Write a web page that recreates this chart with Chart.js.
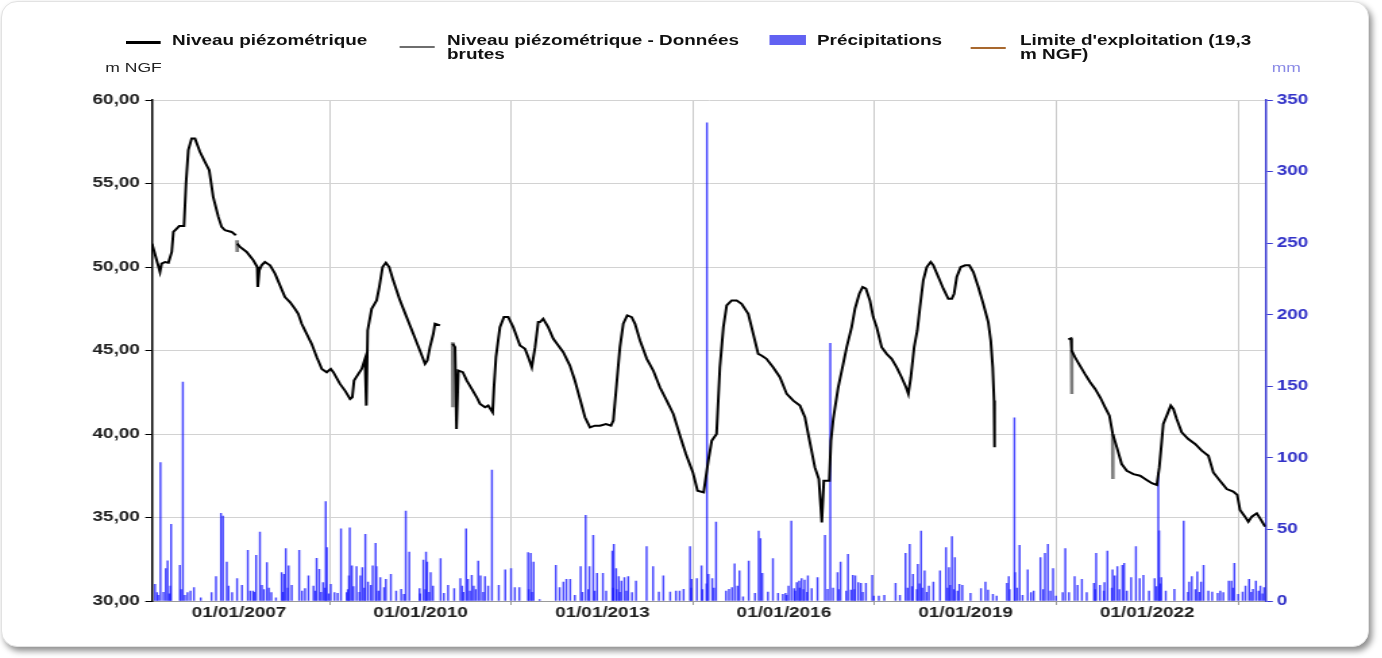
<!DOCTYPE html>
<html lang="fr">
<head>
<meta charset="utf-8">
<title>Niveau piézométrique et précipitations</title>
<script src="https://cdn.jsdelivr.net/npm/chart.js@4.4.1/dist/chart.umd.min.js"></script>
<style>
  html, body { margin: 0; padding: 0; background: #ffffff; }
  body { width: 1382px; height: 658px; overflow: hidden; position: relative; font-family: 'Liberation Sans', Arial, sans-serif; }
  #frame {
    position: absolute; left: 1px; top: 1px; width: 1366px; height: 644px;
    border: 1px solid #e2e2e2; border-radius: 16px; background: #ffffff;
    box-shadow: 3px 4px 6px rgba(0, 0, 0, 0.45);
  }
  /* the drawing is laid out 1024 px wide and widened to the full 1382 px */
  #stage {
    position: absolute; left: 0; top: 0; width: 1024px; height: 658px;
    transform: scaleX(1.35); transform-origin: 0 0;
  }
  #chart { position: absolute; left: 0; top: 0; }
  .legend-item { position: absolute; top: 33px; }
  .legend-sample { position: absolute; }
  .legend-text {
    position: absolute; top: 0; font-size: 14px; line-height: 14px; font-weight: bold;
    color: #111; white-space: normal;
  }
  .unit { position: absolute; line-height: 1; white-space: nowrap; }
  #unitLeft { left: 78px; top: 61px; font-size: 13px; color: #222; }
  #unitRight { left: 942px; top: 61px; font-size: 13px; color: #8a8ae6; }
</style>
</head>
<body>
<div id="frame"></div>
<div id="stage">
  <canvas id="chart" width="1024" height="658"></canvas>
  <div id="legend"></div>
  <div class="unit" id="unitLeft">m NGF</div>
  <div class="unit" id="unitRight">mm</div>
</div>
<script>
// ---- Niveau piézométrique (m NGF); null = interruption de la chronique
const levelDates = [
  '2005-07-25','2005-08-22','2005-09-11','2005-09-21','2005-10-11','2005-11-01','2005-11-21','2005-12-01','2005-12-21',
  '2006-01-05','2006-02-03','2006-02-15','2006-03-01','2006-03-21','2006-04-10','2006-05-10','2006-06-09','2006-07-05',
  '2006-07-29','2006-08-29','2006-09-18','2006-10-08','2006-11-17','2006-12-13','2006-12-17','2006-12-21',
  '2007-01-07','2007-02-16','2007-03-28','2007-04-21','2007-04-24','2007-05-03','2007-05-17','2007-06-06','2007-07-07',
  '2007-08-06','2007-09-05','2007-10-05','2007-11-04','2007-12-04','2007-12-24',
  '2008-01-14','2008-02-13','2008-03-14','2008-04-14','2008-05-14','2008-06-13','2008-07-07','2008-07-23','2008-09-01',
  '2008-10-01','2008-11-01','2008-11-14','2008-11-25','2008-12-21',
  '2009-01-10','2009-01-30','2009-02-07','2009-02-15','2009-03-11','2009-04-10','2009-04-26','2009-05-16','2009-06-05',
  '2009-06-25','2009-07-19','2009-08-29','2009-10-08','2009-11-17','2009-12-27',
  '2010-01-27','2010-02-10','2010-02-26','2010-03-18','2010-03-28','2010-04-27','2010-05-20','2010-07-13','2010-07-27',
  '2010-08-05','2010-08-16','2010-09-12','2010-10-06','2010-11-05','2010-12-05','2010-12-25',
  '2011-01-24','2011-02-12','2011-03-11','2011-03-19','2011-03-31','2011-04-24','2011-05-18','2011-06-13','2011-07-13',
  '2011-08-23','2011-09-22','2011-10-12','2011-11-02','2011-11-22','2011-12-11','2011-12-22',
  '2012-01-10','2012-02-09','2012-03-11','2012-04-10','2012-05-10','2012-06-19','2012-07-19','2012-08-19','2012-09-18',
  '2012-10-18','2012-11-17','2012-12-17',
  '2013-01-23','2013-02-22','2013-03-08','2013-03-28','2013-04-17','2013-05-07','2013-05-31','2013-06-27','2013-07-17',
  '2013-08-16','2013-09-26','2013-11-04','2013-12-14',
  '2014-01-24','2014-03-05','2014-04-24','2014-05-20','2014-07-01','2014-07-29','2014-09-04','2014-10-02','2014-10-23',
  '2014-11-21','2014-12-11',
  '2015-01-01','2015-01-21','2015-02-20','2015-03-22','2015-04-21','2015-05-31','2015-06-30','2015-07-30','2015-08-19',
  '2015-09-18','2015-10-28','2015-12-08',
  '2016-01-18','2016-02-27','2016-04-07','2016-05-07','2016-06-06','2016-07-06','2016-07-30','2016-08-17','2016-08-29',
  '2016-10-01','2016-10-11','2016-10-25','2016-11-24','2016-12-24',
  '2017-01-14','2017-02-13','2017-03-05','2017-03-31','2017-04-20','2017-05-10','2017-06-03','2017-06-23','2017-07-14',
  '2017-08-13','2017-09-12','2017-10-12','2017-11-11','2017-12-11',
  '2018-01-07','2018-01-21','2018-02-05','2018-02-25','2018-03-16','2018-04-01','2018-04-21','2018-05-12','2018-06-05',
  '2018-06-21','2018-07-21','2018-08-20','2018-09-19','2018-10-10','2018-10-24','2018-11-09','2018-12-03','2018-12-30',
  '2019-01-24','2019-02-17','2019-03-19','2019-04-18','2019-05-18','2019-06-02','2019-06-14','2019-06-22','2019-06-25',
  '2019-12-01',
  '2020-09-12','2020-09-28','2020-10-02','2020-10-22','2020-11-21','2020-12-21',
  '2021-01-22','2021-02-21','2021-03-23','2021-04-22','2021-05-18','2021-06-07','2021-07-02','2021-07-31','2021-08-31',
  '2021-10-10','2021-11-19','2021-12-29',
  '2022-01-29','2022-02-28','2022-03-15','2022-03-30','2022-04-08','2022-04-29','2022-05-23','2022-06-08','2022-06-28',
  '2022-07-28','2022-09-06','2022-10-17','2022-11-26',
  '2023-01-05','2023-02-04','2023-03-16','2023-04-26','2023-06-04','2023-06-28','2023-07-15','2023-08-14','2023-09-03',
  '2023-09-24','2023-10-24','2023-11-13','2023-12-13'
];
const levelValues = [
  51.4, 50.4, 49.7, 50.2, 50.3, 50.25, 50.9, 52.1, 52.3,
  52.45, 52.45, 55.0, 57.0, 57.7, 57.7, 56.9, 56.3, 55.8,
  54.2, 53.0, 52.4, 52.2, 52.1, 51.9, null, 51.4,
  51.2, 50.9, 50.4, 50.0, 48.8, 49.8, 50.1, 50.3, 50.1,
  49.6, 48.9, 48.2, 47.9, 47.5, 47.2,
  46.6, 46.0, 45.4, 44.6, 43.9, 43.7, 43.9, 43.7, 43.0,
  42.6, 42.1, 42.2, 43.2, 43.6,
  43.9, 44.5, 41.7, 46.2, 47.5, 48.0, 48.8, 50.0, 50.25,
  50.0, 49.2, 48.0, 47.0, 46.0, 45.0,
  44.2, 44.4, 45.2, 46.0, 46.6, 46.5, null, 45.4, 45.2,
  40.3, 43.8, 43.7, 43.2, 42.7, 42.2, 41.8,
  41.6, 41.7, 41.3, 42.8, 44.6, 46.4, 47.0, 47.0, 46.4,
  45.3, 45.1, 44.6, 44.0, 45.2, 46.7, 46.7,
  46.9, 46.4, 45.7, 45.3, 44.9, 44.1, 43.2, 42.1, 41.0,
  40.4, 40.5, 40.5,
  40.6, 40.5, 40.8, 43.0, 45.2, 46.6, 47.1, 47.0, 46.6,
  45.6, 44.5, 43.8, 42.8,
  42.0, 41.2, 39.6, 38.8, 37.7, 36.6, 36.5, 38.4, 39.6,
  40.0, 44.0,
  46.4, 47.7, 48.0, 48.0, 47.8, 47.2, 46.0, 44.8, 44.7,
  44.5, 44.0, 43.4,
  42.4, 42.0, 41.7, 41.0, 39.5, 38.0, 37.3, 34.7, 37.2,
  37.2, 39.6, 40.9, 42.8, 44.2,
  45.2, 46.4, 47.5, 48.4, 48.8, 48.7, 48.0, 47.0, 46.4,
  45.2, 44.8, 44.5, 44.0, 43.4,
  42.8, 42.4, 43.4, 45.2, 46.2, 47.6, 49.2, 50.0, 50.3,
  50.1, 49.4, 48.7, 48.1, 48.1, 48.4, 49.4, 50.0, 50.1,
  50.1, 49.7, 48.8, 47.8, 46.7, 45.6, 44.0, 42.0, 39.2,
  null,
  45.67, 45.73, 45.0, 44.6, 44.1, 43.6,
  43.1, 42.7, 42.2, 41.6, 41.1, 40.0, 39.2, 38.2, 37.8,
  37.6, 37.5, 37.25,
  37.05, 36.95, 38.0, 39.6, 40.6, 41.1, 41.7, 41.5, 40.9,
  40.1, 39.7, 39.4, 39.0,
  38.7, 37.7, 37.2, 36.7, 36.55, 36.35, 35.45, 35.05, 34.75,
  35.05, 35.25, 34.95, 34.45
];

// ---- Niveau piézométrique - données brutes (valeurs écartées)
const rawDates  = ['2006-12-19','2006-12-21','2006-12-22','2010-07-12','2010-07-14','2010-07-15','2020-10-01','2020-10-03','2020-10-04','2021-06-06','2021-06-08'];
const rawValues = [51.6, 50.9, null, 45.5, 41.6, null, 45.0, 42.4, null, 40.0, 37.3];

// ---- Précipitations journalières : [date, mm]
const rainfall = [
  ['2005-08-12', 11.6], ['2005-08-24', 5.8], ['2005-08-31', 4], ['2005-09-14', 96.7], ['2005-10-02', 6],
  ['2005-10-16', 22.6], ['2005-10-27', 28.0], ['2005-11-06', 5], ['2005-11-13', 10.5], ['2005-11-17', 53.6],
  ['2006-01-09', 24.9], ['2006-01-16', 8], ['2006-01-27', 153], ['2006-02-08', 4], ['2006-02-24', 5.8],
  ['2006-03-14', 7.0], ['2006-04-04', 9.3], ['2006-05-15', 2.3], ['2006-07-19', 5.8], ['2006-08-15', 17.0],
  ['2006-09-14', 61.3], ['2006-09-26', 59.4], ['2006-10-19', 27.2], ['2006-10-30', 10.5], ['2006-11-20', 5.8],
  ['2006-12-20', 15.6],
  ['2007-01-19', 10.9], ['2007-02-23', 35.4], ['2007-03-10', 7.0], ['2007-03-27', 7.0], ['2007-04-03', 6],
  ['2007-04-14', 31.9], ['2007-05-07', 48.2], ['2007-05-19', 10.9], ['2007-05-31', 8], ['2007-06-18', 26.8],
  ['2007-06-30', 9], ['2007-07-15', 5.8], ['2007-08-12', 2.3], ['2007-09-15', 19.8], ['2007-09-23', 6],
  ['2007-09-29', 18.6], ['2007-10-10', 36.6], ['2007-10-22', 9], ['2007-10-27', 24.5], ['2007-11-15', 10.9],
  ['2007-12-30', 35.4],
  ['2008-01-16', 7.0], ['2008-02-03', 8.6], ['2008-02-24', 17.5], ['2008-03-25', 10.5], ['2008-04-05', 7],
  ['2008-04-13', 29.8], ['2008-04-29', 22.1], ['2008-05-10', 6], ['2008-05-22', 12.8], ['2008-06-03', 9],
  ['2008-06-07', 69.4], ['2008-06-14', 37.3], ['2008-06-25', 5], ['2008-07-07', 11.6], ['2008-07-30', 5.8],
  ['2008-08-18', 5.4], ['2008-09-07', 50.5], ['2008-10-11', 5.8], ['2008-10-18', 8], ['2008-10-25', 17.5],
  ['2008-10-30', 51.2], ['2008-11-12', 24.5], ['2008-11-21', 10], ['2008-12-10', 24.0], ['2008-12-27', 6],
  ['2009-01-02', 17.5], ['2009-01-14', 23.3], ['2009-01-26', 9], ['2009-02-01', 46.6], ['2009-02-17', 13.3],
  ['2009-03-06', 11], ['2009-03-17', 24.5], ['2009-04-04', 40.3], ['2009-04-09', 24.0], ['2009-04-21', 7],
  ['2009-05-02', 16.3], ['2009-05-25', 9.3], ['2009-06-05', 15.1], ['2009-07-05', 18.6], ['2009-08-06', 7.0],
  ['2009-09-05', 8.2], ['2009-09-22', 4.7], ['2009-10-03', 62.9], ['2009-10-24', 34.2], ['2009-12-25', 8.6],
  ['2009-12-29', 5],
  ['2010-01-17', 28.6], ['2010-01-29', 8], ['2010-02-02', 34.2], ['2010-02-09', 27.2], ['2010-02-21', 6],
  ['2010-03-02', 19.8], ['2010-03-16', 10.5], ['2010-05-01', 29.6], ['2010-05-21', 5.4], ['2010-06-15', 10.9],
  ['2010-07-22', 8.6], ['2010-08-28', 15.6], ['2010-09-08', 10.5], ['2010-09-16', 6], ['2010-10-02', 50.5],
  ['2010-10-13', 15.1], ['2010-10-25', 7], ['2010-11-05', 17.9], ['2010-11-17', 10.5], ['2010-11-29', 8],
  ['2010-12-14', 27.9], ['2010-12-28', 17.5],
  ['2011-01-13', 6], ['2011-01-24', 17.0], ['2011-02-12', 10.5], ['2011-03-07', 91.5], ['2011-04-17', 10.9],
  ['2011-05-26', 21.7], ['2011-06-30', 22.6], ['2011-07-23', 9.3], ['2011-08-19', 9.3], ['2011-10-11', 33.8],
  ['2011-10-15', 8], ['2011-10-27', 33.3], ['2011-11-03', 6], ['2011-11-13', 27.2], ['2011-12-19', 1.0],
  ['2012-03-26', 24.9], ['2012-04-18', 9.3], ['2012-05-11', 13.3], ['2012-05-29', 15.1], ['2012-06-21', 15.1],
  ['2012-07-19', 4.0], ['2012-08-23', 24.0], ['2012-09-03', 6], ['2012-09-22', 59.9], ['2012-10-08', 8],
  ['2012-10-15', 24.0], ['2012-11-07', 45.9], ['2012-11-16', 7], ['2012-11-30', 19.3],
  ['2013-01-04', 19.3], ['2013-01-24', 7.0], ['2013-03-02', 34.9], ['2013-03-07', 9], ['2013-03-11', 39.6],
  ['2013-03-25', 22.6], ['2013-03-29', 8], ['2013-04-10', 17.0], ['2013-04-16', 6], ['2013-04-26', 14.0],
  ['2013-05-14', 16.3], ['2013-05-26', 7], ['2013-06-06', 17.0], ['2013-06-29', 5.8], ['2013-07-23', 14.0],
  ['2013-09-25', 38.0], ['2013-11-03', 24.0], ['2013-12-08', 6.3],
  ['2014-01-04', 17.5], ['2014-02-14', 6.3], ['2014-03-21', 7.0], ['2014-04-12', 7.0], ['2014-05-06', 8.2],
  ['2014-06-14', 38.0], ['2014-06-20', 9], ['2014-06-23', 15.1], ['2014-07-25', 15.6], ['2014-08-22', 24.5],
  ['2014-08-28', 8], ['2014-09-21', 12], ['2014-09-24', 334], ['2014-10-03', 18.6], ['2014-10-26', 15.6],
  ['2014-11-05', 9], ['2014-11-18', 55.2],
  ['2015-01-17', 7.0], ['2015-02-04', 8.2], ['2015-02-22', 9.3], ['2015-03-10', 25.9], ['2015-03-27', 10.5],
  ['2015-04-08', 21.0], ['2015-04-30', 3.0], ['2015-06-03', 27.9], ['2015-07-11', 5.4], ['2015-08-02', 48.9],
  ['2015-08-13', 43.6], ['2015-08-24', 19.3], ['2015-09-27', 6.3], ['2015-10-27', 29.6], ['2015-11-27', 5.4],
  ['2015-12-26', 4.7],
  ['2016-01-11', 5.4], ['2016-01-18', 4], ['2016-01-29', 10.5], ['2016-02-15', 55.9], ['2016-03-03', 8.6],
  ['2016-03-09', 7], ['2016-03-19', 12.8], ['2016-04-02', 14.0], ['2016-04-05', 9], ['2016-04-17', 15.6],
  ['2016-04-28', 8], ['2016-05-05', 14.7], ['2016-05-20', 6], ['2016-05-25', 17.5], ['2016-06-17', 8.6],
  ['2016-07-22', 16.3], ['2016-09-05', 45.9], ['2016-09-21', 8.2], ['2016-10-07', 180], ['2016-10-24', 9],
  ['2016-11-20', 19.8], ['2016-11-26', 8], ['2016-12-08', 27.2],
  ['2017-01-11', 7], ['2017-01-22', 32.6], ['2017-02-09', 7.7], ['2017-02-20', 17.9], ['2017-03-03', 8],
  ['2017-03-07', 17.5], ['2017-03-25', 12.8], ['2017-04-10', 12.3], ['2017-04-21', 6], ['2017-05-10', 12.3],
  ['2017-06-17', 17.9], ['2017-06-27', 3.5], ['2017-07-27', 3.5], ['2017-08-29', 4.0], ['2017-11-05', 12.3],
  ['2017-12-01', 4.0],
  ['2018-01-04', 33.3], ['2018-01-16', 9], ['2018-01-29', 39.6], ['2018-02-12', 10], ['2018-02-18', 18.6],
  ['2018-03-13', 8], ['2018-03-19', 25.6], ['2018-03-29', 12], ['2018-04-08', 48.9], ['2018-04-15', 9],
  ['2018-04-29', 21.0], ['2018-05-12', 6], ['2018-05-25', 10.5], ['2018-06-21', 13.3], ['2018-07-31', 21.0],
  ['2018-09-05', 37.3], ['2018-09-15', 9], ['2018-09-23', 23.3], ['2018-09-30', 11], ['2018-10-11', 45.0],
  ['2018-10-22', 8], ['2018-10-29', 30.3], ['2018-11-14', 7], ['2018-11-25', 11.6], ['2018-12-13', 10.9],
  ['2019-01-31', 5.4], ['2019-04-04', 8.6], ['2019-05-01', 13.3], ['2019-05-17', 7.7], ['2019-06-15', 4.7],
  ['2019-07-08', 3.5], ['2019-09-08', 12.3], ['2019-09-19', 17.0], ['2019-09-24', 8], ['2019-10-23', 128],
  ['2019-10-27', 19.8], ['2019-11-08', 9], ['2019-11-23', 38.9], ['2019-12-11', 4.0],
  ['2020-01-11', 21.7], ['2020-01-31', 5.8], ['2020-02-16', 7.0], ['2020-03-28', 30.3], ['2020-04-13', 8],
  ['2020-04-24', 33.3], ['2020-05-12', 39.6], ['2020-05-27', 7], ['2020-06-12', 22.6], ['2020-06-30', 3.5],
  ['2020-08-09', 5.8], ['2020-08-25', 36.6], ['2020-09-16', 5.8], ['2020-10-20', 17.0], ['2020-11-07', 10.9],
  ['2020-12-03', 15.1],
  ['2021-01-01', 5.8], ['2021-02-14', 12.3], ['2021-02-21', 8], ['2021-02-27', 33.3], ['2021-03-22', 10.9],
  ['2021-04-14', 7], ['2021-04-18', 12.8], ['2021-05-06', 34.9], ['2021-06-02', 9], ['2021-06-06', 21.7],
  ['2021-06-19', 17.5], ['2021-07-05', 24.0], ['2021-07-17', 8], ['2021-08-04', 24.9], ['2021-08-15', 26.3],
  ['2021-08-31', 7], ['2021-09-26', 16.3], ['2021-10-25', 38.0], ['2021-11-17', 15.6], ['2021-12-09', 17.9],
  ['2022-01-12', 7.0], ['2022-02-15', 15.6], ['2022-02-26', 10], ['2022-03-09', 89.7], ['2022-03-14', 49.0],
  ['2022-03-20', 12], ['2022-03-27', 16.3], ['2022-04-23', 7.0], ['2022-06-14', 8.2], ['2022-08-09', 55.9],
  ['2022-09-04', 6], ['2022-09-11', 13.3], ['2022-09-27', 17.0], ['2022-10-19', 8], ['2022-10-30', 20.3],
  ['2022-11-11', 6], ['2022-11-22', 13.3], ['2022-12-07', 24.9],
  ['2023-01-05', 7.0], ['2023-01-28', 6.3], ['2023-03-02', 5.4], ['2023-03-18', 7.0], ['2023-04-05', 5.8],
  ['2023-05-08', 14.0], ['2023-05-24', 14.0], ['2023-06-03', 9], ['2023-06-11', 26.3], ['2023-07-04', 4.7],
  ['2023-07-31', 6.3], ['2023-08-17', 10.5], ['2023-09-08', 15.1], ['2023-09-21', 6], ['2023-10-01', 8.2],
  ['2023-10-19', 14.0], ['2023-11-04', 7], ['2023-11-15', 10.5], ['2023-11-27', 5], ['2023-12-07', 9.3]
];

// ---- Limite d'exploitation (m NGF)
const limitValue = 19.3;

// ---- Axes
const periodStart = '2005-07-25';
const periodEnd = '2023-12-19';
const tickYears = [2007, 2010, 2013, 2016, 2019, 2022];

const labels = {
  level: 'Niveau piézométrique',
  raw: 'Niveau piézométrique - Données brutes',
  rain: 'Précipitations',
  limit: "Limite d'exploitation (19,3 m NGF)"
};

const toTime = s => { const [y, m, d] = s.split('-').map(Number); return Date.UTC(y, m - 1, d); };
const toPoints = (dates, values) => dates.map((d, i) => ({ x: toTime(d), y: values[i] }));
const pad2 = n => String(n).padStart(2, '0');
const fmtDate = t => { const d = new Date(t); return pad2(d.getUTCDate()) + '/' + pad2(d.getUTCMonth() + 1) + '/' + d.getUTCFullYear(); };

const FONT = "'Liberation Sans', Arial, sans-serif";
const tickFont = { family: FONT, size: 14, weight: 'bold' };
const RAIN_COLOR = 'rgba(28, 28, 255, 0.82)';

const chart = new Chart(document.getElementById('chart'), {
  type: 'line',
  data: {
    datasets: [
      {
        type: 'line', label: labels.level, data: toPoints(levelDates, levelValues),
        borderColor: '#000000', borderWidth: 2, pointRadius: 0, tension: 0, spanGaps: false,
        yAxisID: 'y', order: 0, legendStyle: { color: '#000000', width: 26, thick: 2.6, y: 8 }
      },
      {
        type: 'line', label: labels.raw, data: toPoints(rawDates, rawValues),
        borderColor: '#7c7c7c', borderWidth: 2.5, pointRadius: 0, tension: 0, spanGaps: false,
        yAxisID: 'y', order: 1, legendStyle: { color: '#6e6e6e', width: 26, thick: 1.5, y: 13 }
      },
      {
        type: 'bar', label: labels.rain,
        data: rainfall.map(([d, mm]) => ({ x: toTime(d), y: mm })),
        backgroundColor: RAIN_COLOR, borderWidth: 0, barThickness: 0.8,
        yAxisID: 'y2', order: 3, legendStyle: { color: '#6262f2', width: 27, thick: 10, y: 2 }
      },
      {
        type: 'line', label: labels.limit,
        data: [{ x: toTime(periodStart), y: limitValue }, { x: toTime(periodEnd), y: limitValue }],
        borderColor: '#a8682e', borderWidth: 1.5, pointRadius: 0,
        yAxisID: 'y', order: 2, legendStyle: { color: '#a8682e', width: 26, thick: 2, y: 14 }
      }
    ]
  },
  options: {
    responsive: false,
    devicePixelRatio: 1,
    animation: false,
    events: [],
    layout: { padding: { top: 100, left: 0, right: 0, bottom: 0 } },
    plugins: { legend: { display: false }, tooltip: { enabled: false }, title: { display: false } },
    scales: {
      x: {
        type: 'linear', position: 'bottom', offset: false,
        min: toTime(periodStart), max: toTime(periodEnd),
        afterFit: s => { s.height = 57; },
        afterBuildTicks: s => { s.ticks = tickYears.map(y => ({ value: Date.UTC(y, 0, 1) })); },
        ticks: { callback: v => fmtDate(v), font: tickFont, color: '#1e1e1e', autoSkip: false, maxRotation: 0, padding: 0 },
        grid: { color: '#c9c9c9', lineWidth: 1, tickLength: 4, tickColor: '#9a9a9a' },
        border: { color: '#9a9a9a', width: 1 }
      },
      y: {
        position: 'left', min: 30, max: 60,
        afterFit: s => { s.width = 112.6; },
        ticks: { stepSize: 5, callback: v => v.toFixed(2).replace('.', ','), font: tickFont, color: '#1e1e1e', padding: 4 },
        grid: { color: '#d2d2d2', lineWidth: 1, tickLength: 5, tickColor: '#000000' },
        border: { color: '#000000', width: 1.5 }
      },
      y2: {
        position: 'right', min: 0, max: 350,
        afterFit: s => { s.width = 1024 - 937.8; },
        ticks: { stepSize: 50, font: tickFont, color: '#3232c8', padding: 3 },
        grid: { drawOnChartArea: false, color: '#3a3ad2', tickLength: 5 },
        border: { color: '#3a3ad2', width: 1.5 }
      }
    }
  }
});

// HTML legend built from the chart's datasets
const legendLefts = [92.6, 296.3, 570.4, 718.5];
const legendTextLefts = [127.4, 331.1, 605.2, 755.6];
const legendTextWidths = [200, 225, 140, 178];
const legendEl = document.getElementById('legend');
chart.data.datasets.forEach((ds, i) => {
  const st = ds.legendStyle;
  const item = document.createElement('div');
  item.className = 'legend-item';
  item.style.left = '0px';
  const sample = document.createElement('div');
  sample.className = 'legend-sample';
  sample.style.left = legendLefts[i] + 'px';
  sample.style.top = st.y + 'px';
  sample.style.width = st.width + 'px';
  sample.style.height = st.thick + 'px';
  sample.style.background = st.color;
  const text = document.createElement('div');
  text.className = 'legend-text';
  text.style.left = legendTextLefts[i] + 'px';
  text.style.width = legendTextWidths[i] + 'px';
  text.textContent = ds.label;
  item.appendChild(sample);
  item.appendChild(text);
  legendEl.appendChild(item);
});
</script>
</body>
</html>
